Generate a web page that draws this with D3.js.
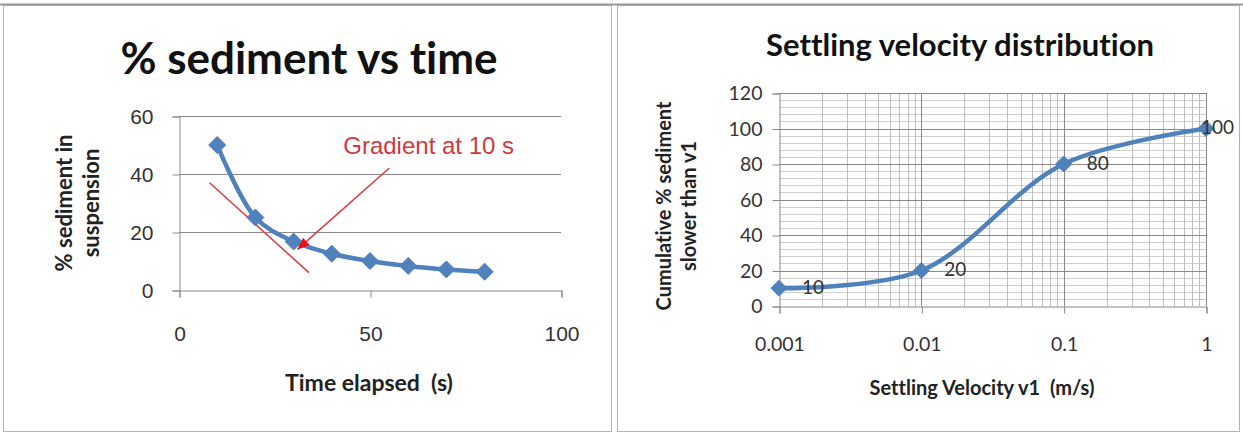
<!DOCTYPE html>
<html><head><meta charset="utf-8">
<script src="https://cdn.jsdelivr.net/npm/d3@7"></script>
<style>
html,body{margin:0;padding:0;background:#fff;}
svg{display:block;}
svg text{font-variant-ligatures:none;font-feature-settings:"liga" 0;white-space:pre;}
</style>
</head><body>
<svg id="c" width="1243" height="434"></svg>
<script>
// ---------- data: left chart ----------
const timeS = [10, 20, 30, 40, 50, 60, 70, 80];
const sedimentPct = [50, 25, 16.7, 12.5, 10, 8.3, 7.1, 6.3];
const leftXTicks = [0, 50, 100];
const leftYTicks = [0, 20, 40, 60];
const tangentLine = [[8, 37], [34, 6]];
const arrowLine = [[55, 42], [31, 14]];
const gradientLabel = "Gradient at 10 s";
const gradientLabelPos = [43, 47];

// ---------- data: right chart ----------
const velocity = [0.001, 0.01, 0.1, 1];
const cumulativePct = [10, 20, 80, 100];
const rightXTicks = [0.001, 0.01, 0.1, 1];
const rightXTickLabels = ["0.001", "0.01", "0.1", "1"];
const rightYTicks = [0, 20, 40, 60, 80, 100, 120];

const svg = d3.select("#c");
const BLUE = "#4f81bd";
const CAL = "Lato, 'Open Sans', sans-serif";
const ARI = "'Liberation Sans', Arial, sans-serif";

// panel frames
svg.append("rect").attr("x", 3.5).attr("y", 5.5).attr("width", 608).attr("height", 426)
  .attr("fill", "#fff").attr("stroke", "#b4b4b4");
svg.append("rect").attr("x", 617.5).attr("y", 5.5).attr("width", 622).attr("height", 426)
  .attr("fill", "#fff").attr("stroke", "#b4b4b4");
svg.append("line").attr("x1", 0).attr("x2", 1243).attr("y1", 4.5).attr("y2", 4.5)
  .attr("stroke", "#9a9a9a").attr("stroke-width", 2);

function diamond(g, pts, r) {
  g.selectAll("path.mk").data(pts).join("path").attr("class", "mk")
    .attr("d", `M0,${-r}L${r},0L0,${r}L${-r},0Z`)
    .attr("transform", d => `translate(${d[0]},${d[1]})`)
    .attr("fill", BLUE).attr("stroke", BLUE).attr("stroke-width", 1);
}

// ================= LEFT CHART =================
{
  const g = svg.append("g");
  const x = d3.scaleLinear().domain([0, 100]).range([179, 561]);
  const y = d3.scaleLinear().domain([0, 60]).range([290, 116]);

  g.selectAll("line.gy").data(leftYTicks.filter(v => v > 0)).join("line")
    .attr("x1", x(0)).attr("x2", x(100)).attr("y1", d => y(d) + 0.5).attr("y2", d => y(d) + 0.5)
    .attr("stroke", "#8a8a8a").attr("stroke-width", 1);

  const ya = d3.axisLeft(y).tickValues(leftYTicks).tickSize(7).tickPadding(19);
  const yg = g.append("g").attr("transform", `translate(${x(0) + 0.5},0.5)`).call(ya);
  const xa = d3.axisBottom(x).tickValues(leftXTicks).tickSize(7).tickPadding(29);
  const xg = g.append("g").attr("transform", `translate(0.5,${y(0) + 0.5})`).call(xa);
  [yg, xg].forEach(a => {
    a.select(".domain").attr("stroke", "#8a8a8a");
    a.selectAll(".tick line").attr("stroke", "#8a8a8a");
    a.selectAll(".tick text").attr("font-family", ARI).attr("font-size", 21).attr("fill", "#333");
  });

  g.append("line")
    .attr("x1", x(tangentLine[0][0])).attr("y1", y(tangentLine[0][1]))
    .attr("x2", x(tangentLine[1][0])).attr("y2", y(tangentLine[1][1]))
    .attr("stroke", "#e0383e").attr("stroke-width", 1.5);

  const pts = timeS.map((t, i) => [x(t), y(sedimentPct[i])]);
  g.append("path").attr("d", d3.line().curve(d3.curveCatmullRom.alpha(0.5))(pts))
    .attr("fill", "none").attr("stroke", BLUE).attr("stroke-width", 4.5)
    .attr("stroke-linejoin", "round");
  diamond(g, pts, 8.5);

  const ax1 = x(arrowLine[0][0]), ay1 = y(arrowLine[0][1]);
  const ax2 = x(arrowLine[1][0]), ay2 = y(arrowLine[1][1]);
  g.append("line").attr("x1", ax1).attr("y1", ay1).attr("x2", ax2).attr("y2", ay2)
    .attr("stroke", "#e0383e").attr("stroke-width", 1.5);
  const ang = Math.atan2(ay2 - ay1, ax2 - ax1);
  const L = 12, W = 5;
  const bx = ax2 - L * Math.cos(ang), by = ay2 - L * Math.sin(ang);
  const hx = [ax2, ay2], h1 = [bx + W * Math.sin(ang), by - W * Math.cos(ang)], h2 = [bx - W * Math.sin(ang), by + W * Math.cos(ang)];
  g.append("path").attr("d", `M${hx}L${h1}L${h2}Z`).attr("fill", "#e8101a");

  g.append("text").attr("x", x(gradientLabelPos[0])).attr("y", y(gradientLabelPos[1]))
    .attr("font-family", ARI).attr("font-size", 24).attr("fill", "#d0383e").text(gradientLabel);

  g.append("text").attr("x", 309).attr("y", 74).attr("text-anchor", "middle")
    .attr("font-family", CAL).attr("font-weight", 700).attr("font-size", 44).attr("fill", "#111")
    .text("% sediment vs time");
  g.append("text").attr("x", 369).attr("y", 391).attr("text-anchor", "middle")
    .attr("font-family", CAL).attr("font-weight", 700).attr("font-size", 23).attr("fill", "#222")
    .text("Time elapsed  (s)");
  const yl = g.append("text").attr("transform", "translate(0,203) rotate(-90)")
    .attr("text-anchor", "middle").attr("font-family", CAL).attr("font-weight", 700)
    .attr("font-size", 22).attr("fill", "#222");
  yl.append("tspan").attr("x", 0).attr("y", 72).text("% sediment in");
  yl.append("tspan").attr("x", 0).attr("y", 99).text("suspension");
}

// ================= RIGHT CHART =================
{
  const g = svg.append("g");
  const x = d3.scaleLog().domain([0.001, 1]).range([779, 1206]);
  const y = d3.scaleLinear().domain([0, 120]).range([306, 93]);

  const minorY = d3.range(0, 121, 4).filter(v => v % 20 !== 0);
  g.selectAll("line.my").data(minorY).join("line")
    .attr("x1", x(0.001)).attr("x2", x(1)).attr("y1", d => Math.round(y(d)) + 0.5).attr("y2", d => Math.round(y(d)) + 0.5)
    .attr("stroke", "#cfcfcf");
  const minorX = [];
  [0.001, 0.01, 0.1].forEach(dec => { for (let k = 2; k <= 9; k++) minorX.push(dec * k); });
  g.selectAll("line.mx").data(minorX).join("line")
    .attr("y1", y(0)).attr("y2", y(120)).attr("x1", d => Math.round(x(d)) + 0.5).attr("x2", d => Math.round(x(d)) + 0.5)
    .attr("stroke", "#bdbdbd");
  g.selectAll("line.gy").data(rightYTicks.filter(v => v > 0)).join("line")
    .attr("x1", x(0.001)).attr("x2", x(1)).attr("y1", d => Math.round(y(d)) + 0.5).attr("y2", d => Math.round(y(d)) + 0.5)
    .attr("stroke", "#8a8a8a");
  g.selectAll("line.gx").data(rightXTicks.slice(1)).join("line")
    .attr("y1", y(0)).attr("y2", y(120)).attr("x1", d => Math.round(x(d)) + 0.5).attr("x2", d => Math.round(x(d)) + 0.5)
    .attr("stroke", "#8a8a8a");

  const ya = d3.axisLeft(y).tickValues(rightYTicks).tickSize(7).tickPadding(10);
  const yg = g.append("g").attr("transform", `translate(${Math.round(x(0.001)) + 0.5},0.5)`).call(ya);
  const xa = d3.axisBottom(x).tickValues(rightXTicks).tickFormat((d, i) => rightXTickLabels[i])
    .tickSize(7).tickPadding(24);
  const xg = g.append("g").attr("transform", `translate(0.5,${Math.round(y(0)) + 0.5})`).call(xa);
  [yg, xg].forEach(a => {
    a.select(".domain").attr("stroke", "#8a8a8a");
    a.selectAll(".tick line").attr("stroke", "#8a8a8a");
    a.selectAll(".tick text").attr("font-family", CAL).attr("font-size", 19.5).attr("fill", "#333");
  });

  const pts = velocity.map((v, i) => [x(v), y(cumulativePct[i])]);
  g.append("path").attr("d", d3.line().curve(d3.curveCatmullRom.alpha(0.5))(pts))
    .attr("fill", "none").attr("stroke", BLUE).attr("stroke-width", 4.5);
  diamond(g, pts, 8);

  g.selectAll("text.dl").data(pts).join("text").attr("class", "dl")
    .attr("x", (d, i) => Math.min(d[0] + 23, 1234 - String(cumulativePct[i]).length * 11))
    .attr("y", d => d[1] + 1).attr("dominant-baseline", "middle")
    .attr("font-family", CAL).attr("font-size", 19).attr("fill", "#333")
    .text((d, i) => cumulativePct[i]);

  g.append("text").attr("x", 960).attr("y", 56).attr("text-anchor", "middle")
    .attr("font-family", CAL).attr("font-weight", 700).attr("font-size", 31).attr("fill", "#111")
    .text("Settling velocity distribution");
  g.append("text").attr("x", 982).attr("y", 395).attr("text-anchor", "middle")
    .attr("font-family", CAL).attr("font-weight", 700).attr("font-size", 20).attr("fill", "#222")
    .text("Settling Velocity v1  (m/s)");
  const yl = g.append("text").attr("transform", "translate(0,206) rotate(-90)")
    .attr("text-anchor", "middle").attr("font-family", CAL).attr("font-weight", 700)
    .attr("font-size", 20).attr("fill", "#222");
  yl.append("tspan").attr("x", 0).attr("y", 671).text("Cumulative % sediment");
  yl.append("tspan").attr("x", 0).attr("y", 696).text("slower than v1");
}
</script>
</body></html>
